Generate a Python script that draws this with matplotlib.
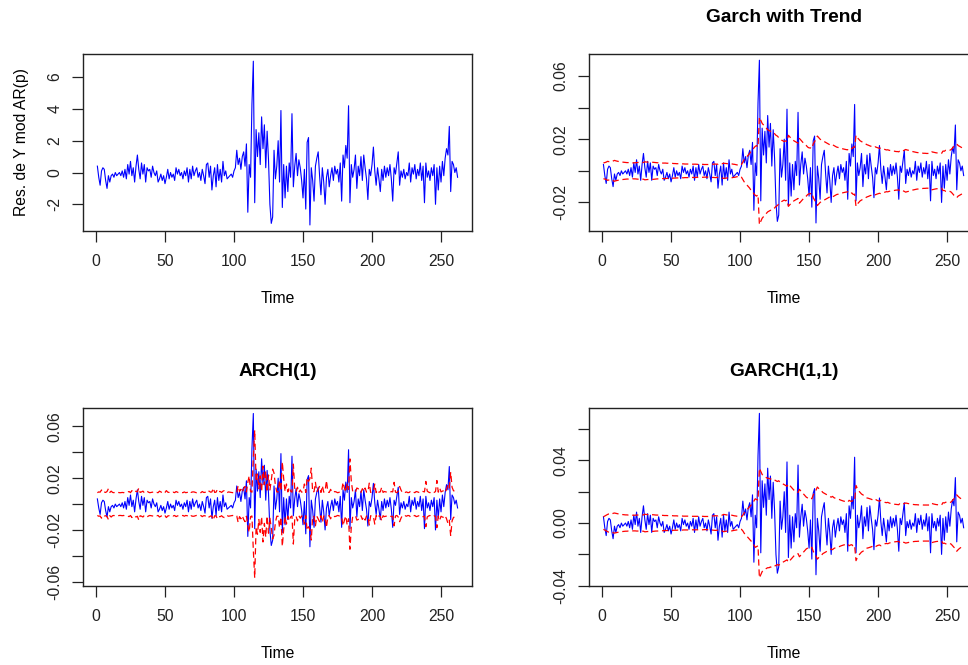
import numpy as np
import matplotlib
matplotlib.use('Agg')
from matplotlib import pyplot as plt

# data (residuals in the units of the first panel)
time = np.arange(1, 263)

res = [0.4, -0.3, -0.8, 0.1, 0.3, 0.2, -0.5, -1.0, -0.2, -0.6,
       -0.2, -0.1, -0.3, 0.0, -0.2, -0.1, 0.0, -0.2, 0.1, -0.3,
       0.2, -0.4, 0.5, -0.1, 0.7, -0.2, 0.3, -0.6, 0.4, 1.1,
       0.2, -0.4, 0.6, -0.1, 0.5, -0.6, 0.3, 0.1, 0.2, -0.3,
       0.4, 0.0, -0.2, 0.1, -0.6, -0.4, -0.1, -0.5, -0.2, -0.7,
       -0.3, 0.2, -0.4, 0.0, -0.3, -0.1, -0.5, 0.3, -0.1, 0.2,
       -0.2, 0.0, -0.4, 0.1, -0.2, 0.3, -0.6, 0.2, -0.4, 0.4,
       -0.2, 0.1, 0.3, -0.3, 0.0, -0.5, 0.2, -0.2, -0.7, 0.5,
       0.6, -0.3, 0.4, -1.1, -0.2, 0.3, -0.9, 0.5, -0.5, 0.2,
       -0.6, 0.7, -0.2, 0.1, -0.4, -0.3, -0.2, -0.1, -0.3, 0.1,
       0.3, 1.4, 0.5, 0.9, 0.2, 1.0, 1.3, 0.4, 1.8, -2.5,
       0.5, -0.3, 4.3, 7.0, -1.9, 2.7, 1.0, 2.5, 0.5, 3.5,
       1.5, 3.0, 0.3, 2.6, 0.8, -2.0, -3.2, -2.8, 1.4, -0.4,
       0.4, 2.0, -0.6, 3.9, -2.2, 0.5, -1.6, 0.4, -1.2, 0.6,
       -0.3, 3.7, -0.9, 0.4, 1.2, -0.2, 0.8, 0.3, -0.5, -1.6,
       0.2, -2.3, 1.9, 2.2, -3.3, 0.3, -0.5, -1.8, 0.4, 0.9,
       1.3, -0.2, -1.4, 0.3, -0.6, -2.0, -0.3, 0.2, -0.9, -0.2,
       0.3, -0.5, 0.4, -0.1, 0.2, -0.6, 0.6, -1.8, 1.1, 0.3,
       1.7, 0.9, 4.2, -1.9, 0.5, -0.3, 0.2, 1.1, -1.0, 0.4,
       -0.2, 1.0, -0.5, 1.1, 0.3, -0.4, -1.7, 0.2, -0.2, 0.5,
       1.6, 0.1, -0.8, 0.3, -0.4, -1.2, 0.2, -0.5, 0.4, -0.3,
       0.3, -0.2, 0.5, -0.4, -1.8, 0.3, -0.1, 0.6, 1.3, -0.8,
       0.1, -0.3, 0.2, -0.4, 0.0, -0.2, 0.6, -0.6, 0.3, -0.1,
       0.5, -0.4, 0.2, -0.2, 0.6, -0.5, 0.4, -1.9, 0.6, -0.3,
       0.1, -0.5, 0.3, -0.2, 0.5, -2.0, 0.3, -1.1, 0.4, -0.6,
       0.7, -0.2, 0.9, 1.5, 1.1, 2.9, -1.2, 0.7, 0.5, 0.0,
       0.3, -0.3]

# conditional sd bands (same units as res)
band_trend = [0.50, 0.52, 0.55, 0.60, 0.58, 0.57, 0.56, 0.62, 0.66, 0.63,
              0.61, 0.59, 0.57, 0.56, 0.55, 0.54, 0.53, 0.52, 0.52, 0.51,
              0.51, 0.50, 0.51, 0.51, 0.52, 0.53, 0.52, 0.52, 0.53, 0.53,
              0.57, 0.56, 0.55, 0.55, 0.54, 0.54, 0.54, 0.53, 0.52, 0.51,
              0.51, 0.50, 0.50, 0.49, 0.49, 0.49, 0.48, 0.48, 0.47, 0.47,
              0.47, 0.46, 0.46, 0.45, 0.45, 0.45, 0.44, 0.44, 0.44, 0.43,
              0.43, 0.43, 0.42, 0.42, 0.42, 0.42, 0.42, 0.42, 0.41, 0.41,
              0.41, 0.41, 0.41, 0.40, 0.40, 0.40, 0.40, 0.40, 0.40, 0.42,
              0.42, 0.43, 0.42, 0.42, 0.47, 0.46, 0.45, 0.48, 0.47, 0.46,
              0.45, 0.45, 0.46, 0.44, 0.42, 0.41, 0.39, 0.37, 0.35, 0.34,
              0.40, 0.55, 0.70, 0.80, 0.90, 1.00, 1.10, 1.25, 1.30, 1.45,
              1.55, 1.60, 1.50, 3.40, 3.20, 3.00, 2.90, 2.80, 2.70, 2.60,
              2.55, 2.50, 2.50, 2.40, 2.35, 2.25, 2.20, 2.10, 2.05, 1.95,
              1.90, 1.85, 1.90, 1.85, 2.25, 2.15, 2.05, 2.00, 1.90, 1.85,
              1.80, 1.75, 2.05, 1.95, 1.85, 1.75, 1.65, 1.60, 1.50, 1.45,
              1.45, 1.40, 1.70, 1.85, 2.00, 2.20, 2.10, 2.00, 1.95, 1.90,
              1.85, 1.80, 1.75, 1.70, 1.65, 1.60, 1.65, 1.60, 1.55, 1.50,
              1.48, 1.45, 1.42, 1.40, 1.38, 1.36, 1.34, 1.33, 1.45, 1.42,
              1.40, 1.50, 1.48, 2.25, 2.10, 2.00, 1.90, 1.85, 1.80, 1.75,
              1.70, 1.65, 1.62, 1.58, 1.55, 1.52, 1.48, 1.52, 1.48, 1.45,
              1.42, 1.45, 1.42, 1.38, 1.35, 1.32, 1.33, 1.30, 1.28, 1.26,
              1.25, 1.24, 1.22, 1.22, 1.20, 1.30, 1.28, 1.26, 1.30, 1.35,
              1.32, 1.30, 1.27, 1.25, 1.22, 1.20, 1.18, 1.16, 1.15, 1.13,
              1.12, 1.12, 1.11, 1.11, 1.10, 1.10, 1.10, 1.10, 1.20, 1.18,
              1.16, 1.14, 1.13, 1.12, 1.11, 1.10, 1.25, 1.24, 1.30, 1.28,
              1.27, 1.30, 1.35, 1.45, 1.55, 1.60, 1.70, 1.60, 1.55, 1.50,
              1.45, 1.40]

band_arch = [0.88, 0.94, 0.92, 1.09, 0.88, 0.92, 0.90, 0.97, 1.19, 0.90,
             1.00, 0.90, 0.88, 0.92, 0.88, 0.90, 0.88, 0.88, 0.90, 0.88,
             0.92, 0.90, 0.94, 0.97, 0.88, 1.04, 0.90, 0.92, 1.00, 0.94,
             1.24, 0.90, 0.94, 1.00, 0.88, 0.97, 1.00, 0.92, 0.88, 0.90,
             0.92, 0.94, 0.88, 0.90, 0.88, 1.00, 0.94, 0.88, 0.97, 0.90,
             1.04, 0.92, 0.90, 0.94, 0.88, 0.92, 0.88, 0.97, 0.92, 0.88,
             0.90, 0.90, 0.88, 0.94, 0.88, 0.90, 0.92, 1.00, 0.90, 0.94,
             0.94, 0.90, 0.88, 0.92, 0.92, 0.88, 0.97, 0.90, 0.90, 1.04,
             0.97, 1.00, 0.92, 0.94, 1.24, 0.90, 0.92, 1.14, 0.97, 0.97,
             0.90, 1.00, 1.04, 0.90, 0.88, 0.94, 0.92, 0.90, 0.88, 0.92,
             0.88, 0.92, 1.42, 0.97, 1.14, 0.90, 1.19, 1.36, 0.94, 1.68,
             2.18, 0.97, 0.92, 3.57, 5.71, 1.75, 2.33, 1.19, 2.18, 0.97,
             2.93, 1.49, 2.55, 0.92, 2.25, 1.09, 1.82, 2.70, 2.40, 1.42,
             0.94, 0.94, 1.82, 1.00, 3.26, 1.96, 0.97, 1.55, 0.94, 1.30,
             1.00, 0.92, 3.09, 1.14, 0.94, 1.30, 0.90, 1.09, 0.92, 0.97,
             1.55, 0.90, 2.03, 1.75, 1.96, 2.78, 0.92, 0.97, 1.68, 0.94,
             1.14, 1.36, 0.90, 1.42, 0.92, 1.00, 1.82, 0.92, 0.90, 1.14,
             0.90, 0.92, 0.97, 0.94, 0.88, 0.90, 1.00, 1.00, 1.68, 1.24,
             0.92, 1.62, 1.14, 3.49, 1.75, 0.97, 0.92, 0.90, 1.24, 1.19,
             0.94, 0.90, 1.19, 0.97, 1.24, 0.92, 0.94, 1.62, 0.90, 0.90,
             0.97, 1.55, 0.88, 1.09, 0.92, 0.94, 1.30, 0.90, 0.97, 0.94,
             0.92, 0.92, 0.90, 0.97, 0.94, 1.68, 0.92, 0.88, 1.00, 1.36,
             1.09, 0.88, 0.92, 0.90, 0.94, 0.88, 0.90, 1.00, 1.00, 0.92,
             0.88, 0.97, 0.94, 0.90, 0.90, 1.00, 0.97, 0.94, 1.75, 1.00,
             0.92, 0.88, 0.97, 0.92, 0.90, 0.97, 1.82, 0.92, 1.24, 0.94,
             1.00, 1.04, 0.90, 1.14, 1.49, 1.24, 2.47, 1.30, 1.04, 0.97,
             0.88, 0.92]

band_garch = [0.40, 0.45, 0.50, 0.55, 0.58, 0.57, 0.56, 0.62, 0.64, 0.62,
              0.60, 0.58, 0.56, 0.55, 0.54, 0.53, 0.52, 0.52, 0.51, 0.51,
              0.50, 0.50, 0.50, 0.50, 0.51, 0.51, 0.51, 0.51, 0.52, 0.52,
              0.56, 0.55, 0.54, 0.54, 0.53, 0.53, 0.53, 0.52, 0.51, 0.51,
              0.50, 0.50, 0.49, 0.49, 0.48, 0.48, 0.48, 0.47, 0.47, 0.47,
              0.47, 0.46, 0.46, 0.46, 0.45, 0.45, 0.45, 0.45, 0.44, 0.44,
              0.44, 0.44, 0.44, 0.43, 0.43, 0.43, 0.43, 0.43, 0.43, 0.43,
              0.43, 0.43, 0.43, 0.42, 0.42, 0.42, 0.42, 0.42, 0.42, 0.45,
              0.46, 0.47, 0.46, 0.46, 0.52, 0.51, 0.50, 0.55, 0.54, 0.52,
              0.51, 0.50, 0.52, 0.50, 0.48, 0.46, 0.45, 0.43, 0.42, 0.41,
              0.40, 0.50, 0.65, 0.75, 0.85, 0.95, 1.05, 1.15, 1.25, 1.40,
              1.55, 1.50, 1.45, 3.50, 3.30, 3.10, 3.00, 2.95, 2.90, 2.85,
              2.85, 2.80, 2.85, 2.80, 2.75, 2.70, 2.65, 2.70, 2.60, 2.55,
              2.50, 2.45, 2.40, 2.35, 2.50, 2.40, 2.30, 2.20, 2.10, 2.05,
              2.00, 1.95, 2.15, 2.05, 1.95, 1.85, 1.75, 1.65, 1.60, 1.55,
              1.60, 1.55, 1.80, 1.95, 2.10, 2.30, 2.20, 2.10, 2.05, 1.95,
              1.90, 1.85, 1.80, 1.75, 1.70, 1.65, 1.70, 1.62, 1.58, 1.55,
              1.52, 1.50, 1.46, 1.43, 1.40, 1.38, 1.35, 1.33, 1.45, 1.40,
              1.38, 1.50, 1.45, 2.40, 2.20, 2.05, 1.95, 1.85, 1.80, 1.72,
              1.65, 1.60, 1.58, 1.55, 1.52, 1.48, 1.45, 1.52, 1.46, 1.42,
              1.40, 1.45, 1.40, 1.36, 1.32, 1.30, 1.32, 1.28, 1.25, 1.23,
              1.22, 1.20, 1.19, 1.18, 1.17, 1.28, 1.25, 1.22, 1.24, 1.28,
              1.26, 1.24, 1.22, 1.20, 1.19, 1.18, 1.17, 1.17, 1.16, 1.16,
              1.16, 1.16, 1.15, 1.15, 1.15, 1.15, 1.15, 1.14, 1.25, 1.22,
              1.20, 1.18, 1.17, 1.16, 1.15, 1.15, 1.30, 1.28, 1.33, 1.30,
              1.28, 1.30, 1.35, 1.45, 1.55, 1.62, 1.80, 1.70, 1.62, 1.56,
              1.50, 1.45]

scale = 0.01  # returns in the model panels are in fractions

res = np.array(res)
r = res * scale

plt.rcParams['font.family'] = ['Liberation Sans', 'DejaVu Sans']

fig = plt.figure(figsize=(9.68, 6.65), dpi=100)

def style(ax, yticks, ylabels, ylim):
	ax.set_xlim(-9.44, 272.44)
	ax.set_ylim(ylim)
	ax.set_xticks([0, 50, 100, 150, 200, 250])
	ax.set_yticks(yticks)
	ax.set_yticklabels(ylabels, rotation=90, va='center')
	ax.tick_params(length=7.7, width=0.9, labelsize=11.3, colors='#222222', pad=7)
	ax.tick_params(axis='x', pad=9)
	for s in ax.spines.values():
		s.set_linewidth(1.0)
		s.set_color('#222222')
	ax.set_xlabel('Time', fontsize=11.3, labelpad=16)

def draw(ax, band=None, title=None):
	if band is not None:
		ax.plot(time, r, color='blue', lw=0.8)
		b = np.array(band) * scale
		ax.plot(time, b, color='red', lw=0.9, linestyle=(0, (5, 3)))
		ax.plot(time, -b, color='red', lw=0.9, linestyle=(0, (5, 3)))
	if title:
		ax.set_title(title, fontsize=13.8, fontweight='bold', pad=23)

ax1 = fig.add_axes([0.0857, 0.6526, 0.4019, 0.2666])
ax1.plot(time, res, color='blue', lw=0.8)
style(ax1, [-2, 0, 2, 4, 6], ['-2', '0', '2', '4', '6'], (-3.68, 7.47))
ax1.set_ylabel('Res. de Y mod AR(p)', fontsize=11.3, labelpad=13)

ax2 = fig.add_axes([0.6085, 0.6526, 0.4019, 0.2666])
draw(ax2, band_trend, 'Garch with Trend')
style(ax2, [-0.02, 0, 0.02, 0.04, 0.06], ['-0.02', '', '0.02', '', '0.06'], (-0.0381, 0.0741))

ax3 = fig.add_axes([0.0857, 0.1192, 0.4019, 0.2670])
draw(ax3, band_arch, 'ARCH(1)')
style(ax3, [-0.06, -0.04, -0.02, 0, 0.02, 0.04, 0.06],
      ['-0.06', '', '-0.02', '', '0.02', '', '0.06'], (-0.0631, 0.0741))

ax4 = fig.add_axes([0.6085, 0.1192, 0.4019, 0.2670])
draw(ax4, band_garch, 'GARCH(1,1)')
style(ax4, [-0.04, -0.02, 0, 0.02, 0.04, 0.06],
      ['-0.04', '', '0.00', '', '0.04', ''], (-0.040, 0.0733))

fig.savefig('out.png', dpi=100)
